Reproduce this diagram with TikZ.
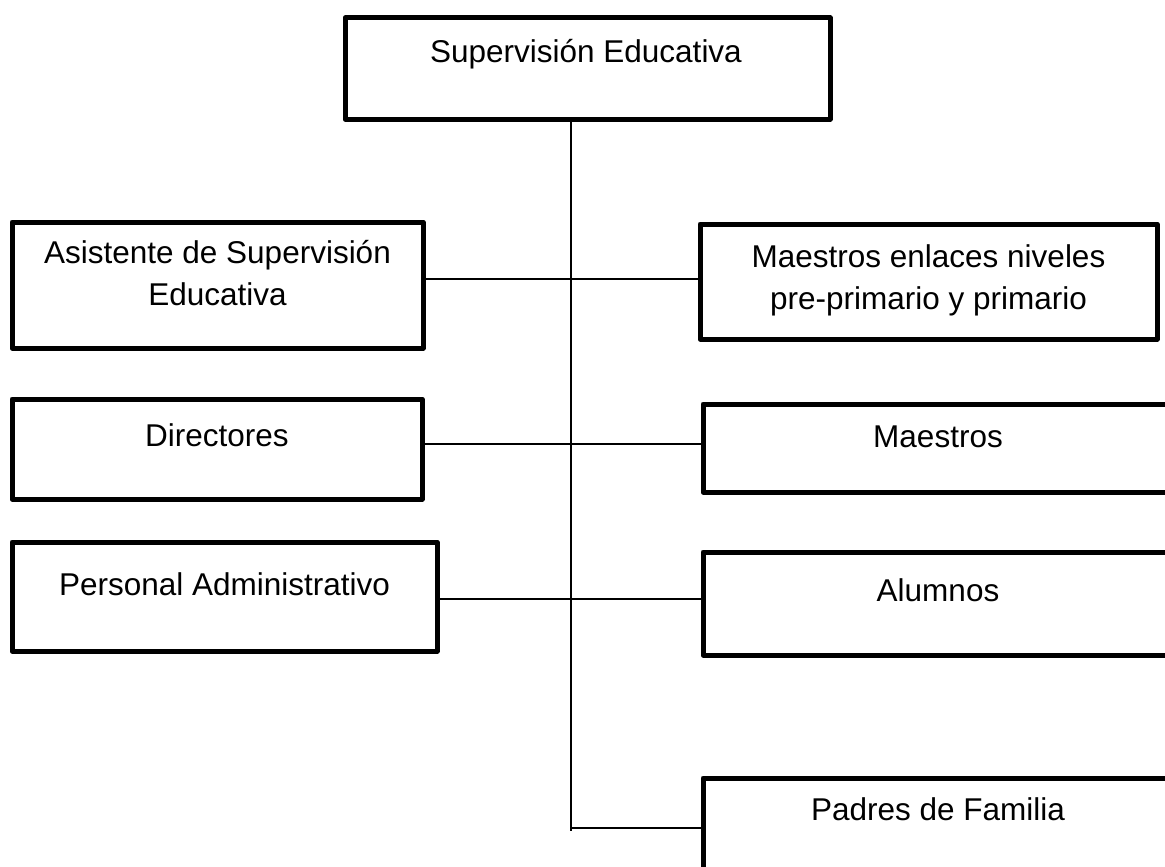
\documentclass[tikz,border=0pt]{standalone}
\usepackage{fontspec}
\setmainfont{Liberation Sans}
\begin{document}
\begin{tikzpicture}[x=1pt,y=-1pt,
  orgbox/.style={draw=black, line width=5pt, line join=round, rectangle, inner sep=0pt},
  lbl/.style={anchor=base, inner sep=0pt, align=center, font=\fontsize{31.5}{42}\selectfont},
  conn/.style={draw=black, line width=2.2pt}]
\useasboundingbox (0,0) rectangle (1165,867);
\clip (0,0) rectangle (1165,867);
% boxes
\node[orgbox, minimum width=485pt, minimum height=101pt] (sup) at (587.5,68.5) {};
\node[orgbox, minimum width=411pt, minimum height=126pt] (asis) at (217.5,285) {};
\node[orgbox, minimum width=457pt, minimum height=115pt] (enl) at (928.5,281.5) {};
\node[orgbox, minimum width=410pt, minimum height=100pt] (dir) at (217,449) {};
\node[orgbox, minimum width=470pt, minimum height=88pt] (mae) at (938,448) {};
\node[orgbox, minimum width=425pt, minimum height=109pt] (per) at (224.5,596.5) {};
\node[orgbox, minimum width=470pt, minimum height=103pt] (alu) at (938,603.5) {};
\node[orgbox, minimum width=470pt, minimum height=112pt] (pad) at (938,834) {};
% labels
\node[lbl] (tsup) at (586,63) {Supervisión Educativa};
\node[lbl] (tasis) at (217.5,305) {Asistente de Supervisión\\Educativa};
\node[lbl] (tenl) at (928.5,309) {Maestros enlaces niveles\\pre-primario y primario};
\node[lbl] (tdir) at (217,446) {Directores};
\node[lbl] (tmae) at (938,447) {Maestros};
\node[lbl] (tper) at (224.5,595) {Personal Administrativo};
\node[lbl] (talu) at (938,601) {Alumnos};
\node[lbl] (tpad) at (938,820) {Padres de Familia};
% connectors
\coordinate (spinebot) at (571,831);
\coordinate (r1) at (571,279);
\coordinate (r2) at (571,444);
\coordinate (r3) at (571,599);
\coordinate (r4) at (571,828);
\draw[conn] (sup.south -| spinebot) -- (spinebot);
\draw[conn] (asis.east |- r1) -- (enl.west |- r1);
\draw[conn] (dir.east |- r2) -- (mae.west |- r2);
\draw[conn] (per.east |- r3) -- (alu.west |- r3);
\draw[conn] (r4) -- (pad.west |- r4);
\end{tikzpicture}
\end{document}
